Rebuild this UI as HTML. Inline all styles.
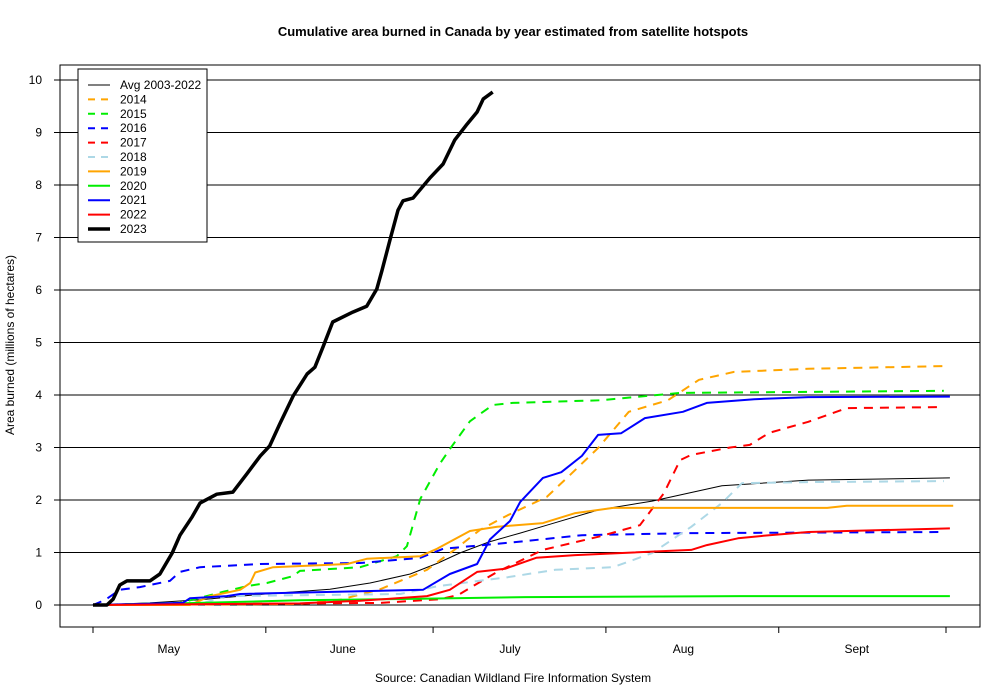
<!DOCTYPE html>
<html><head><meta charset="utf-8"><style>
body{margin:0;background:#fff;}
svg{display:block;font-family:"Liberation Sans",Arial,sans-serif;}
</style></head><body>
<svg id="chart" width="1000" height="700" viewBox="0 0 1000 700">
<rect width="1000" height="700" fill="#fff"/>
<text x="513" y="36" text-anchor="middle" font-size="13" font-weight="bold">Cumulative area burned in Canada by year estimated from satellite hotspots</text>
<text transform="translate(14,345) rotate(-90)" text-anchor="middle" font-size="12">Area burned (millions of hectares)</text>
<text x="513" y="682" text-anchor="middle" font-size="12">Source: Canadian Wildland Fire Information System</text>
<g id="grid"></g>
<g id="axes"></g>
<g id="series"></g>
<rect x="60" y="65" width="920" height="562" fill="none" stroke="#000" stroke-width="1"/>
<g id="legend"></g>
</svg>
<script>
const yTicks=[0,1,2,3,4,5,6,7,8,9,10];
const monthTicks=[0,31,61,92,123,153];
const monthLabels=["May","June","July","Aug","Sept"];
const monthLabelDays=[13.6,44.8,74.8,105.9,137];
const seriesNames=["Avg 2003-2022","2014","2015","2016","2017","2018","2019","2020","2021","2022","2023"];
const avgDays=[0,10.2,19.2,30.9,42.5,49.7,56.9,61.9,65.8,71.0,76.6,81.4,90.6,100.3,112.8,128.3,153.7];
const avgVals=[0,0.04,0.10,0.21,0.30,0.42,0.59,0.80,0.99,1.20,1.37,1.52,1.81,1.98,2.27,2.38,2.42];
const y2014Days=[0,37.1,44.3,51.5,59.9,64.8,69.4,74.4,81.4,85.6,90.6,96.1,103.1,108.7,115.0,128.3,152.6];
const y2014Vals=[0,0.02,0.10,0.30,0.67,1.05,1.43,1.71,2.06,2.48,2.99,3.68,3.90,4.29,4.44,4.50,4.55];
const y2015Days=[0,15.6,23.3,27.6,31.2,35.9,37.1,47.9,54.5,56.3,58.7,62.2,64.0,67.6,71.7,75.3,90.9,105.3,152.6];
const y2015Vals=[0,0.04,0.25,0.36,0.42,0.55,0.65,0.72,0.93,1.12,2.02,2.69,2.97,3.50,3.81,3.85,3.90,4.04,4.08];
const y2016Days=[0,2.2,4.8,8.4,13.8,15.6,19.2,30.0,47.9,58.7,62.8,75.9,87.7,107.3,152.6];
const y2016Vals=[0,0.10,0.29,0.34,0.46,0.63,0.72,0.78,0.80,0.90,1.07,1.20,1.33,1.37,1.39];
const y2017Days=[0,51.5,62.2,65.5,68.5,72.5,80.7,90.6,98.1,102.4,105.3,107.3,114.3,117.8,121.3,128.3,135.2,152.6];
const y2017Vals=[0,0.04,0.11,0.19,0.38,0.63,1.05,1.30,1.52,2.13,2.76,2.86,3.00,3.05,3.28,3.49,3.75,3.77];
const y2018Days=[0,19.2,24.0,55.1,61.9,74.4,82.9,93.3,100.3,107.3,112.8,116.4,128.3,152.6];
const y2018Vals=[0,0.02,0.17,0.21,0.36,0.53,0.67,0.72,0.99,1.49,1.94,2.32,2.34,2.36];
const y2019Days=[0,17.4,21.0,26.4,28.2,29.1,32.3,45.6,49.1,58.7,61.7,67.6,72.5,80.7,86.5,93.3,131.7,135.2,154.3];
const y2019Vals=[0,0,0.17,0.29,0.42,0.62,0.72,0.78,0.88,0.93,1.07,1.41,1.49,1.56,1.75,1.85,1.85,1.89,1.89];
const y2020Days=[0,19.2,37.1,58.7,77.5,116.1,153.7];
const y2020Vals=[0,0.04,0.09,0.12,0.15,0.17,0.17];
const y2021Days=[0,16.1,17.4,24.0,26.4,59.2,64.0,68.9,71.2,74.8,76.6,80.7,84.0,87.7,90.6,94.7,99.0,105.8,110.1,118.6,128.3,153.7];
const y2021Vals=[0,0.04,0.13,0.17,0.21,0.29,0.59,0.78,1.25,1.60,1.96,2.42,2.53,2.84,3.24,3.27,3.56,3.68,3.85,3.92,3.96,3.97];
const y2022Days=[0,37.1,47.9,59.9,64.0,68.9,73.9,79.5,86.5,107.3,110.1,115.7,121.3,128.3,153.7];
const y2022Vals=[0,0.03,0.08,0.17,0.29,0.63,0.69,0.90,0.95,1.05,1.14,1.27,1.33,1.39,1.46];
const y2023Days=[0,2.5,3.6,4.8,6.1,10.2,12.0,14.2,15.6,17.8,19.2,22.2,25.1,27.6,30.0,31.7,33.5,35.9,38.4,39.8,41.3,43.0,46.6,49.1,50.9,51.8,53.3,54.7,55.6,57.4,60.4,62.8,64.9,67.1,68.9,70.0,71.7];
const y2023Vals=[0,0,0.11,0.38,0.46,0.46,0.59,0.99,1.33,1.68,1.94,2.11,2.15,2.50,2.84,3.03,3.45,3.98,4.40,4.53,4.93,5.39,5.58,5.69,6.02,6.36,6.97,7.52,7.70,7.75,8.13,8.40,8.86,9.16,9.39,9.64,9.77];

const NS="http://www.w3.org/2000/svg";
const xs=d=>93+d*(853/153);
const ys=v=>605-v*52.5;
function mk(tag,attrs,parent){const e=document.createElementNS(NS,tag);for(const k in attrs)e.setAttribute(k,attrs[k]);parent.appendChild(e);return e;}
const grid=document.getElementById('grid'),axes=document.getElementById('axes'),ser=document.getElementById('series'),leg=document.getElementById('legend');
yTicks.forEach(t=>{
  const g=mk('line',{x1:60,x2:980,y1:ys(t),y2:ys(t),stroke:'#000','stroke-width':1},grid);
  
  
  const tk=mk('line',{x1:54,x2:60,y1:ys(t),y2:ys(t),stroke:'#000'},axes);
  
  
  const lb=mk('text',{x:42,y:ys(t)+4,'text-anchor':'end','font-size':12},axes);
  lb.textContent=t;
  
  
});
monthTicks.forEach((d,i)=>{
  const tk=mk('line',{x1:xs(d),x2:xs(d),y1:627,y2:633,stroke:'#000'},axes);
  
  
});
mk('line',{x1:xs(0),x2:xs(153),y1:627,y2:627,stroke:'#000'},axes);
monthLabels.forEach((m,i)=>{
  const lb=mk('text',{x:xs(monthLabelDays[i]),y:653,'text-anchor':'middle','font-size':12},axes);
  lb.textContent=m;
  
  
});
const data=[[avgDays,avgVals],[y2014Days,y2014Vals],[y2015Days,y2015Vals],[y2016Days,y2016Vals],[y2017Days,y2017Vals],[y2018Days,y2018Vals],[y2019Days,y2019Vals],[y2020Days,y2020Vals],[y2021Days,y2021Vals],[y2022Days,y2022Vals],[y2023Days,y2023Vals]];
const colors=['#000','orange','#00ee00','#0000ff','#ff0000','#add8e6','orange','#00ee00','#0000ff','#ff0000','#000'];
const widths=[1,2,2,2,2,2,2,2,2,2,3.5];
const dashed=[false,true,true,true,true,true,false,false,false,false,false];
data.forEach((s,i)=>{
  const pts=s[0].map((d,j)=>xs(d).toFixed(1)+','+ys(s[1][j]).toFixed(1)).join(' ');
  const a={points:pts,fill:'none',stroke:colors[i],'stroke-width':widths[i],'stroke-linejoin':'round'};
  if(dashed[i])a['stroke-dasharray']='9,7';
  const p=mk('polyline',a,ser);
  
  
});
const box=mk('rect',{x:78,y:69,width:129,height:173,fill:'#fff',stroke:'#000'},leg);


seriesNames.forEach((n,i)=>{
  const y=85+i*14.4;
  const a={x1:88,x2:110,y1:y,y2:y,stroke:colors[i],'stroke-width':widths[i]};
  if(dashed[i])a['stroke-dasharray']='7,6';
  const l=mk('line',a,leg);
  
  
  const t=mk('text',{x:120,y:y+4,'font-size':12},leg);
  t.textContent=n;
  
  
});
</script>
</body></html>
